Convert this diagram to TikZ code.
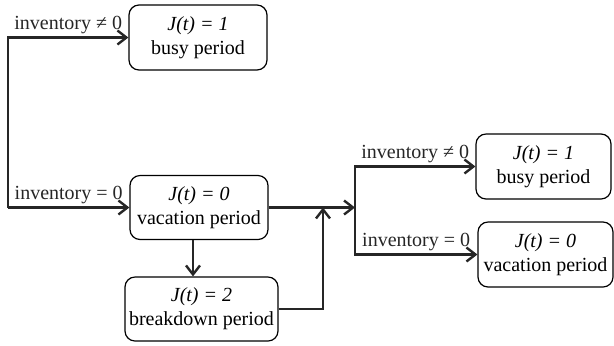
\documentclass[tikz,border=0pt]{standalone}
\usepackage{fontspec}
\setmainfont{Liberation Serif}
\usetikzlibrary{arrows.meta}

\begin{document}
\begin{tikzpicture}[x=0.5pt, y=-0.5pt, >={Straight Barb[length=4.5pt, width=7pt]},
	every node/.style={font=\fontsize{10}{12}\selectfont},
	state/.style={draw, rounded corners=5pt, line width=0.6pt, align=center, inner sep=0pt},
	arr/.style={->, line width=1.2pt, black!85},
	cond/.style={above, inner sep=1pt}]
	\useasboundingbox (0,0) rectangle (614,345);
	% states
	\node[state, minimum width=69pt, minimum height=32.5pt] (busy1) at (198,37.5) {\textit{J(t) = 1}\\ busy period};
	\node[state, minimum width=69pt, minimum height=32pt] (vac1) at (199,207.5) {\textit{J(t) = 0}\\ vacation period};
	\node[state, minimum width=76.5pt, minimum height=32pt] (brk) at (201.5,309) {\textit{J(t) = 2}\\ breakdown period};
	\node[state, minimum width=67.5pt, minimum height=32.5pt] (busy2) at (543.5,166.5) {\textit{J(t) = 1}\\ busy period};
	\node[state, minimum width=67.5pt, minimum height=32.5pt] (vac2) at (545.5,254.5) {\textit{J(t) = 0}\\ vacation period};
	% branch points
	\coordinate (split1) at (8,207.5);
	\coordinate (merge) at (323,207.5);
	\coordinate (split2) at (355,207.5);
	% connectors
	\draw[arr] (split1) |- (busy1.west) node[cond, pos=0.75] {inventory ≠ 0};
	\draw[arr] (split1) -- (vac1.west) node[cond, midway] {inventory = 0};
	\draw[arr] (vac1.south -| 193,0) -- (brk.north -| 193,0);
	\draw[arr] (brk.east) -| (merge);
	\draw[arr] (vac1.east) -- (split2);
	\draw[arr] (split2) |- (busy2.west) node[cond, pos=0.75] {inventory ≠ 0};
	\draw[arr] (split2) |- (vac2.west) node[cond, pos=0.75] {inventory = 0};
\end{tikzpicture}
\end{document}
